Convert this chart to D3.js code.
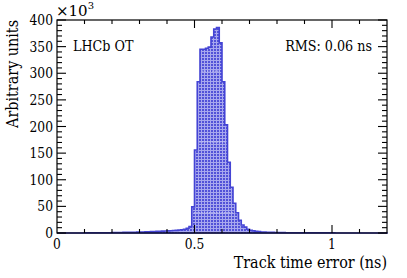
<!DOCTYPE html>
<meta charset="utf-8" />
<style>
  body { margin: 0; background: #fff; }
</style>
<body>
  <div id="chart"></div>
  <script src="https://cdn.jsdelivr.net/npm/d3@7"></script>
  <script>
    // bin lower edges (ns), bin width 0.01
    const binWidth = 0.01;
    const binStart = [];
    for (let i = 0; i < 120; i++) binStart.push(+(i * binWidth).toFixed(2));

    // counts per bin in units of 10^3
    const counts = [
      0, 0, 0, 0, 0, 0, 0, 0, 0, 0,          // 0.00-0.09
      0.2, 0.2, 0.3, 0.3, 0.4, 0.4, 0.5, 0.5, 0.6, 0.6, // 0.10-0.19
      0.7, 0.8, 0.9, 1.0, 1.1, 1.2, 1.3, 1.4, 1.5, 1.7, // 0.20-0.29
      1.8, 2.0, 2.2, 2.4, 2.6, 2.8, 3.0, 3.2, 3.5, 3.8, // 0.30-0.39
      4.0, 4.3, 4.6, 5.0, 5.5, 6.0, 7.0, 9, 12, 49,     // 0.40-0.49
      156, 284, 345, 345, 347, 349, 368, 383, 386, 357, // 0.50-0.59
      284, 203, 133, 86, 56, 38, 24, 15, 11, 7,         // 0.60-0.69
      5, 4, 3, 2.5, 2, 1.7, 1.5, 1.3, 1.1, 1.0,         // 0.70-0.79
      0.9, 0.8, 0.7, 0.6, 0.6, 0.5, 0.5, 0.4, 0.4, 0.4, // 0.80-0.89
      0.3, 0.3, 0.3, 0.3, 0.2, 0.2, 0.2, 0.2, 0.2, 0.2, // 0.90-0.99
      0.2, 0.1, 0.1, 0.1, 0.1, 0.1, 0.1, 0.1, 0.1, 0.1, // 1.00-1.09
      0.1, 0.1, 0.1, 0.1, 0.1, 0.1, 0.1, 0.1, 0.1, 0.1  // 1.10-1.19
    ];

    const xMajorTicks = [0, 0.5, 1];
    const xTickLabels = ["0", "0.5", "1"];
    const yMajorTicks = [0, 50, 100, 150, 200, 250, 300, 350, 400];

    const width = 407, height = 278;
    const margin = { left: 57, right: 20, top: 20, bottom: 45 };
    const serif = "'DejaVu Serif', 'Liberation Serif', serif";

    const x = d3.scaleLinear().domain([0, 1.2]).range([margin.left, width - margin.right]);
    const y = d3.scaleLinear().domain([0, 400]).range([height - margin.bottom, margin.top]);

    const svg = d3.select("#chart").append("svg")
      .attr("width", width).attr("height", height)
      .style("font-family", serif);

    // text placed at (tx,ty), narrowed horizontally to look like Times
    function label(tx, ty, txt, size, anchor, k, rot) {
      return svg.append("text")
        .attr("transform", `translate(${tx},${ty})` + (rot ? ` rotate(${rot})` : "") + ` scale(${k},1)`)
        .attr("text-anchor", anchor)
        .attr("font-size", size)
        .text(txt);
    }

    // ROOT-like fill pattern
    const defs = svg.append("defs");
    const pat = defs.append("pattern")
      .attr("id", "grid")
      .attr("patternUnits", "userSpaceOnUse")
      .attr("width", 3).attr("height", 3);
    pat.append("rect").attr("width", 3).attr("height", 3).attr("fill", "#a8a8ee");
    pat.append("rect").attr("x", 1).attr("y", 1).attr("width", 2).attr("height", 2).attr("fill", "#5252d8");

    // histogram path (step outline)
    const pts = [[x(0), y(0)]];
    counts.forEach((c, i) => {
      pts.push([x(binStart[i]), y(c)]);
      pts.push([x(binStart[i] + binWidth), y(c)]);
    });
    pts.push([x(1.2), y(0)]);

    svg.append("path")
      .attr("d", d3.line()(pts) + "Z")
      .attr("fill", "url(#grid)")
      .attr("stroke", "#4444d4")
      .attr("stroke-width", 1.6)
      .attr("stroke-linejoin", "miter");

    // light artefact lines in the fill
    [304, 171, 38].forEach(v => {
      const idx = counts.map((c, i) => c >= v + 8 ? i : -1).filter(i => i >= 0);
      svg.append("line")
        .attr("x1", x(binStart[idx[0]]) + 2).attr("x2", x(binStart[idx[idx.length - 1]] + binWidth) - 2)
        .attr("y1", y(v)).attr("y2", y(v))
        .attr("stroke", "#d0d0f6").attr("stroke-width", 1).attr("stroke-dasharray", "1.5,1");
    });

    // frame
    const x0 = x(0), x1 = x(1.2), y0 = y(0), y1 = y(400);
    svg.append("rect")
      .attr("x", x0).attr("y", y1).attr("width", x1 - x0).attr("height", y0 - y1)
      .attr("fill", "none").attr("stroke", "#000").attr("stroke-width", 1.2);

    const ticks = svg.append("g").attr("stroke", "#000").attr("stroke-width", 1.1);
    // x ticks (bottom and top)
    d3.range(1, 12).forEach(i => {
      const v = i / 10;
      const len = i % 5 === 0 ? 8 : 4;
      ticks.append("line").attr("x1", x(v)).attr("x2", x(v)).attr("y1", y0).attr("y2", y0 - len);
      ticks.append("line").attr("x1", x(v)).attr("x2", x(v)).attr("y1", y1).attr("y2", y1 + len);
    });
    // y ticks (left and right)
    d3.range(0, 41).forEach(i => {
      const v = i * 10;
      const len = i % 5 === 0 ? 9 : 5;
      ticks.append("line").attr("x1", x0).attr("x2", x0 + len).attr("y1", y(v)).attr("y2", y(v));
      ticks.append("line").attr("x1", x1).attr("x2", x1 - len).attr("y1", y(v)).attr("y2", y(v));
    });

    // y labels
    yMajorTicks.forEach(d => label(x0 - 4, y(d) + 5, d, 15, "end", 0.82));

    // x labels
    xMajorTicks.forEach((d, i) => label(x(d), y0 + 16, xTickLabels[i], 15, "middle", 0.82));

    // exponent
    const ex = svg.append("text").attr("x", x0 - 1).attr("y", 16).attr("font-size", 15);
    ex.append("tspan").text("×10");
    ex.append("tspan").attr("dy", -7).attr("font-size", 10).text("3");

    // axis titles
    label(x1, 268, "Track time error (ns)", 16.5, "end", 0.87);
    label(18, y1, "Arbitrary units", 16.5, "end", 0.87, -90);

    // labels in frame
    label(73, 51, "LHCb OT", 15, "start", 0.85);
    label(372, 51, "RMS: 0.06 ns", 15, "end", 0.85);
  </script>
</body>
